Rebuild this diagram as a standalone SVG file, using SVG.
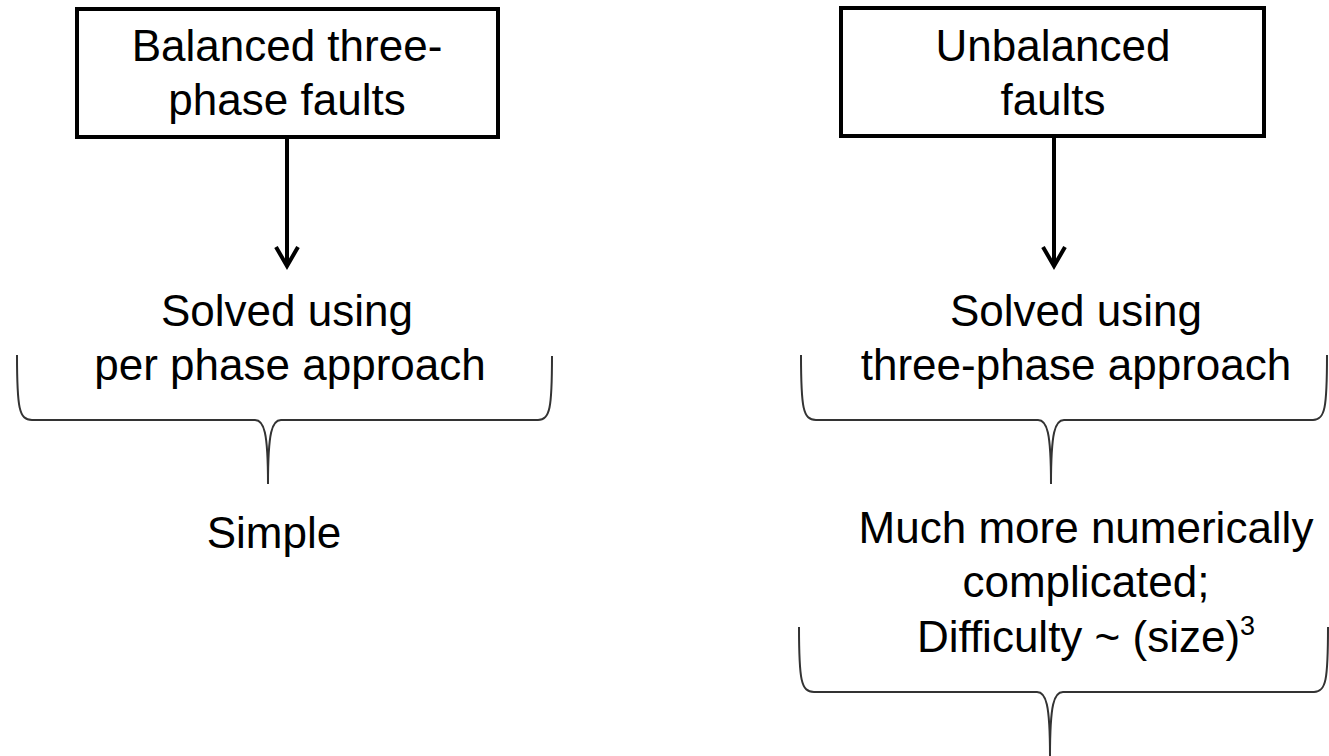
<svg xmlns="http://www.w3.org/2000/svg" width="1329" height="756" viewBox="0 0 1329 756">
<defs>
<style>
.t{font-family:"Liberation Sans",Arial,Helvetica,sans-serif;font-size:44px;fill:#000;text-anchor:middle}
.box{fill:#fff;stroke:#000;stroke-width:4}
.arr{fill:none;stroke:#000;stroke-width:4}
.br{fill:none;stroke:#333;stroke-width:2}
</style>
</defs>
<rect width="1329" height="756" fill="#fff"/>
<g id="node-balanced">
<rect class="box" x="77" y="9" width="421" height="128"/>
<text class="t" x="287" y="61">Balanced three-</text>
<text class="t" x="287" y="115">phase faults</text>
</g>
<g id="node-unbalanced">
<rect class="box" x="841" y="8" width="423" height="128"/>
<text class="t" x="1053" y="61">Unbalanced</text>
<text class="t" x="1053" y="115">faults</text>
</g>
<g id="node-per-phase">
<text class="t" x="287" y="326">Solved using</text>
<text class="t" x="290" y="380">per phase approach</text>
</g>
<g id="node-three-phase">
<text class="t" x="1076" y="326">Solved using</text>
<text class="t" x="1076" y="380">three-phase approach</text>
</g>
<g id="node-simple">
<text class="t" x="274" y="548">Simple</text>
</g>
<g id="node-complicated">
<text class="t" x="1086" y="543">Much more numerically</text>
<text class="t" x="1086" y="597">complicated;</text>
<text class="t" x="1086" y="652">Difficulty ~ (size)<tspan font-size="27" dy="-17">3</tspan></text>
</g>
<g id="connectors">
<path class="arr" d="M287,137 V265 M276,247 L287,266 L298,247"/>
<path class="arr" d="M1054,136 V265 M1043,247 L1054,266 L1065,247"/>
<path class="br" d="M17,355 C17,408 19,420 32,420 L255,420 C264,420 268,432 268,484 C268,432 272,420 281,420 L538,420 C550,420 552,408 552,356"/>
<path class="br" d="M801,355 C801,408 803,420 816,420 L1038,420 C1047,420 1051,432 1051,484 C1051,432 1055,420 1064,420 L1313,420 C1325,420 1327,408 1327,355"/>
<path class="br" d="M799,627 C799,680 801,692 814,692 L1037,692 C1046,692 1050,704 1050,756 C1050,704 1054,692 1063,692 L1314,692 C1326,692 1328,680 1328,627"/>
</g>
</svg>
